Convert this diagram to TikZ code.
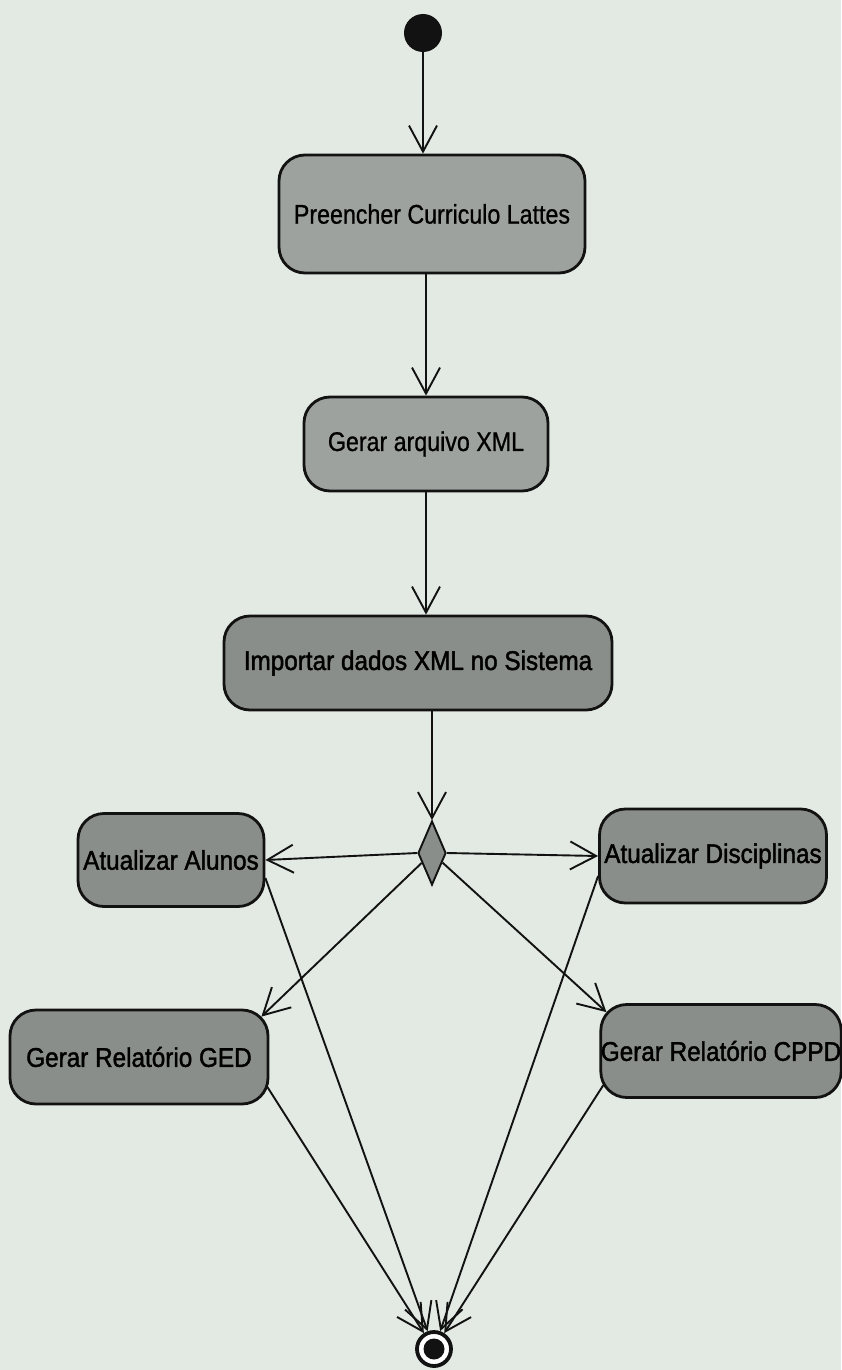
\documentclass[tikz,border=0pt]{standalone}
\usepackage{fontspec}
\setmainfont{Liberation Sans}
\newfontfamily\boxfont[FakeStretch=0.86,FakeBold=0.8]{Liberation Sans}
\newfontfamily\boxfontheavy[FakeStretch=0.9,FakeBold=1.6]{Liberation Sans}
\usetikzlibrary{arrows.meta,shapes.geometric,calc}
\definecolor{paper}{RGB}{226,234,227}
\definecolor{actfill}{RGB}{158,162,158}
\definecolor{actdark}{RGB}{138,142,138}
\definecolor{ink}{RGB}{18,18,18}
\begin{document}
\begin{tikzpicture}[x=1pt,y=-1pt,
  act/.style={draw=ink, line width=2.8pt, fill=actfill, rounded corners=26pt,
    inner sep=0pt, text=black, font=\boxfont\fontsize{27}{30}\selectfont},
  actlow/.style={act, fill=actdark, font=\boxfontheavy\fontsize{27}{30}\selectfont},
  flow/.style={draw=ink, line width=1.9pt,
    -{Straight Barb[length=26pt,width=28pt]}}]

% page
\fill[paper] (0,0) rectangle (841,1370);
\useasboundingbox (0,0) rectangle (841,1370);

% initial and final states
\node[circle, fill=ink, minimum size=38pt, inner sep=0pt] (start) at (423,33) {};
\node[circle, draw=ink, line width=3.8pt, fill=white, minimum size=34pt, inner sep=0pt] (finish) at (434,1349) {};
\fill[ink] (finish.center) circle (10.5pt);

% activities
\node[act, minimum width=306pt, minimum height=118pt] (pre) at (432,214) {Preencher Curriculo Lattes};
\node[act, minimum width=244pt, minimum height=94pt] (xml) at (426,444) {Gerar arquivo XML};
\node[actlow, minimum width=388pt, minimum height=94pt] (imp) at (418,663) {Importar dados XML no Sistema};
\node[diamond, draw=ink, line width=1.9pt, fill=actdark, minimum width=28pt, minimum height=64pt, inner sep=0pt, aspect=0.44] (dec) at (432,853) {};
\node[actlow, minimum width=186pt, minimum height=93pt] (alu) at (171,860) {Atualizar Alunos};
\node[actlow, minimum width=227pt, minimum height=94pt] (dis) at (713,856) {Atualizar Disciplinas};
\node[actlow, minimum width=258pt, minimum height=94pt] (ged) at (139,1057) {Gerar Relatório GED};
\node[actlow, minimum width=235pt, minimum height=93pt] (cppd) at (721,1051) {Gerar Relatório CPPD};

% connector end points on the rounded corners
\coordinate (gedin) at ($(ged.north east)+(-8,8)$);
\coordinate (cppdin) at ($(cppd.north west)+(7,9)$);
\coordinate (aluout) at ($(alu.east)+(0,18)$);
\coordinate (disout) at ($(dis.west)+(0,20)$);
\coordinate (gedout) at ($(ged.east)+(-2,30)$);
\coordinate (cppdout) at ($(cppd.west)+(4,34)$);

% main sequence
\draw[flow] (start) -- (pre.north -| start);
\draw[flow] (pre.south -| xml.north) -- (xml.north);
\draw[flow] (xml.south) -- (xml.south |- imp.north);
\draw[flow] (imp.south -| dec.north) -- (dec.north);

% branches from the decision
\draw[flow] (dec.west) -- (alu.east);
\draw[flow] (dec.east) -- (dis.west);
\draw[flow] (dec) -- (gedin);
\draw[flow] (dec) -- (cppdin);

% joins into the final state
\draw[flow] (aluout) -- (finish);
\draw[flow] (disout) -- (finish);
\draw[flow] (gedout) -- (finish);
\draw[flow] (cppdout) -- (finish);
\end{tikzpicture}
\end{document}
